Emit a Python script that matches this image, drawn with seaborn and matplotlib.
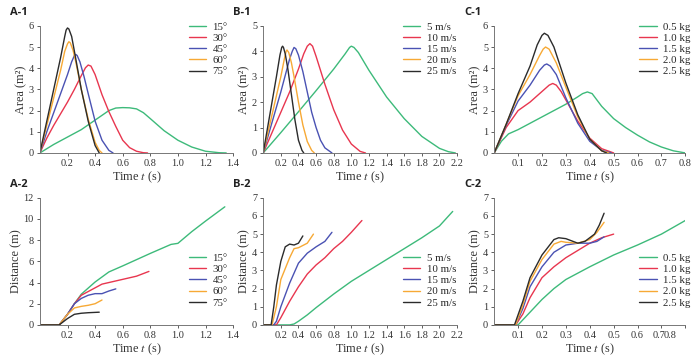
import matplotlib
matplotlib.use('Agg')
import matplotlib.pyplot as plt
import matplotlib.transforms as mtrans
import pandas as pd
import seaborn as sns

# ---- data ----
A_LABELS = ['15°', '30°', '45°', '60°', '75°']
B_LABELS = ['5 m/s', '10 m/s', '15 m/s', '20 m/s', '25 m/s']
C_LABELS = ['0.5 kg', '1.0 kg', '1.5 kg', '2.0 kg', '2.5 kg']

# A-1 area vs time
A1_T = [
    [0, 0.1, 0.2, 0.3, 0.4, 0.5, 0.55, 0.6, 0.65, 0.7, 0.75, 0.8, 0.9, 1.0, 1.1, 1.2, 1.3, 1.35],
    [0, 0.05, 0.1, 0.15, 0.2, 0.25, 0.3, 0.33, 0.35, 0.37, 0.4, 0.45, 0.5, 0.55, 0.6, 0.65, 0.7, 0.75, 0.78],
    [0, 0.05, 0.1, 0.15, 0.2, 0.23, 0.25, 0.26, 0.27, 0.29, 0.32, 0.35, 0.4, 0.45, 0.5, 0.53],
    [0, 0.05, 0.1, 0.15, 0.18, 0.2, 0.21, 0.22, 0.24, 0.26, 0.3, 0.35, 0.4, 0.43, 0.45],
    [0, 0.05, 0.1, 0.15, 0.18, 0.19, 0.2, 0.21, 0.23, 0.25, 0.3, 0.35, 0.4, 0.43],
]
A1_V = [
    [0, 0.4, 0.75, 1.1, 1.55, 2.0, 2.12, 2.14, 2.13, 2.08, 1.9, 1.62, 1.05, 0.6, 0.28, 0.08, 0.01, 0],
    [0, 0.7, 1.3, 1.85, 2.4, 3.0, 3.65, 4.02, 4.15, 4.1, 3.7, 2.75, 1.95, 1.25, 0.6, 0.25, 0.08, 0.01, 0],
    [0, 1.0, 1.9, 2.8, 3.7, 4.3, 4.6, 4.65, 4.6, 4.3, 3.6, 2.8, 1.5, 0.6, 0.12, 0],
    [0, 1.3, 2.6, 3.9, 4.8, 5.15, 5.25, 5.2, 4.85, 4.3, 3.0, 1.6, 0.5, 0.12, 0],
    [0, 1.5, 3.0, 4.5, 5.5, 5.8, 5.9, 5.85, 5.5, 4.8, 3.0, 1.5, 0.35, 0],
]

# B-1 area vs time
B1_T = [
    [0, 0.2, 0.4, 0.6, 0.8, 0.93, 0.98, 1.0, 1.03, 1.08, 1.2, 1.4, 1.6, 1.8, 2.0, 2.1, 2.18],
    [0, 0.1, 0.2, 0.3, 0.4, 0.46, 0.5, 0.53, 0.56, 0.6, 0.7, 0.8, 0.9, 1.0, 1.1, 1.16],
    [0, 0.1, 0.2, 0.3, 0.33, 0.35, 0.37, 0.4, 0.45, 0.5, 0.55, 0.6, 0.65, 0.7, 0.78],
    [0, 0.1, 0.2, 0.24, 0.26, 0.27, 0.29, 0.32, 0.35, 0.4, 0.45, 0.5, 0.55, 0.58],
    [0, 0.05, 0.1, 0.15, 0.19, 0.21, 0.22, 0.23, 0.25, 0.28, 0.32, 0.36, 0.4, 0.44, 0.46],
]
B1_V = [
    [0, 0.8, 1.62, 2.45, 3.3, 3.9, 4.15, 4.2, 4.15, 3.95, 3.25, 2.2, 1.35, 0.65, 0.18, 0.05, 0],
    [0, 0.8, 1.6, 2.4, 3.3, 3.9, 4.2, 4.3, 4.2, 3.8, 2.7, 1.7, 0.9, 0.35, 0.06, 0],
    [0, 1.2, 2.4, 3.7, 4.0, 4.15, 4.1, 3.85, 3.2, 2.4, 1.6, 1.0, 0.5, 0.2, 0],
    [0, 1.5, 3.0, 3.7, 4.0, 4.05, 3.95, 3.55, 3.0, 2.0, 1.1, 0.45, 0.1, 0],
    [0, 1.0, 2.0, 3.0, 3.85, 4.15, 4.2, 4.15, 3.9, 3.3, 2.3, 1.3, 0.5, 0.1, 0],
]

# C-1 area vs time
C1_T = [
    [0, 0.03, 0.06, 0.1, 0.15, 0.2, 0.25, 0.3, 0.35, 0.37, 0.39, 0.41, 0.45, 0.5, 0.55, 0.6, 0.65, 0.7, 0.75, 0.8],
    [0, 0.05, 0.1, 0.15, 0.2, 0.23, 0.245, 0.26, 0.28, 0.3, 0.35, 0.4, 0.45, 0.5],
    [0, 0.05, 0.1, 0.15, 0.19, 0.21, 0.22, 0.235, 0.26, 0.3, 0.35, 0.4, 0.45, 0.49],
    [0, 0.05, 0.1, 0.15, 0.19, 0.205, 0.215, 0.23, 0.26, 0.3, 0.35, 0.4, 0.45, 0.48],
    [0, 0.05, 0.1, 0.15, 0.18, 0.2, 0.21, 0.225, 0.25, 0.3, 0.35, 0.4, 0.45, 0.47],
]
C1_V = [
    [0, 0.55, 0.9, 1.1, 1.4, 1.7, 2.0, 2.3, 2.65, 2.8, 2.88, 2.8, 2.2, 1.62, 1.2, 0.84, 0.52, 0.28, 0.1, 0],
    [0, 1.2, 2.0, 2.4, 2.9, 3.2, 3.28, 3.2, 2.9, 2.5, 1.5, 0.7, 0.2, 0],
    [0, 1.3, 2.45, 3.2, 3.9, 4.15, 4.2, 4.1, 3.7, 2.6, 1.4, 0.55, 0.12, 0],
    [0, 1.35, 2.7, 3.7, 4.6, 4.9, 5.0, 4.9, 4.25, 3.1, 1.7, 0.65, 0.1, 0],
    [0, 1.35, 2.8, 4.1, 5.1, 5.55, 5.65, 5.55, 5.0, 3.3, 1.8, 0.65, 0.1, 0],
]

# A-2 distance vs time
A2_T = [
    [0, 0.14, 0.2, 0.25, 0.3, 0.4, 0.5, 0.6, 0.8, 0.95, 1.0, 1.1, 1.2, 1.34],
    [0, 0.14, 0.2, 0.25, 0.3, 0.4, 0.45, 0.5, 0.6, 0.7, 0.79],
    [0, 0.14, 0.2, 0.25, 0.3, 0.35, 0.4, 0.45, 0.5, 0.55],
    [0, 0.14, 0.2, 0.25, 0.3, 0.35, 0.4, 0.45],
    [0, 0.14, 0.2, 0.25, 0.3, 0.35, 0.43],
]
A2_V = [
    [0, 0, 1.0, 2.0, 2.9, 4.05, 5.0, 5.57, 6.75, 7.6, 7.7, 8.8, 9.8, 11.15],
    [0, 0, 1.0, 2.0, 2.8, 3.5, 3.85, 4.0, 4.3, 4.6, 5.05],
    [0, 0, 1.0, 2.0, 2.5, 2.8, 2.95, 2.95, 3.2, 3.4],
    [0, 0, 1.0, 1.6, 1.75, 1.85, 2.0, 2.35],
    [0, 0, 0.6, 1.0, 1.1, 1.15, 1.2],
]

# B-2 distance vs time
B2_T = [
    [0, 0.3, 0.35, 0.4, 0.5, 0.6, 0.8, 1.0, 1.2, 1.4, 1.6, 1.8, 2.0, 2.15],
    [0, 0.15, 0.2, 0.3, 0.4, 0.5, 0.6, 0.7, 0.8, 0.9, 1.0, 1.12],
    [0, 0.12, 0.15, 0.2, 0.3, 0.4, 0.5, 0.6, 0.7, 0.78],
    [0, 0.1, 0.15, 0.2, 0.3, 0.35, 0.4, 0.5, 0.57],
    [0, 0.09, 0.12, 0.15, 0.2, 0.25, 0.3, 0.35, 0.4, 0.45],
]
B2_V = [
    [0, 0, 0.05, 0.2, 0.55, 0.95, 1.7, 2.4, 3.0, 3.6, 4.2, 4.8, 5.45, 6.25],
    [0, 0, 0.4, 1.3, 2.1, 2.8, 3.3, 3.7, 4.2, 4.6, 5.1, 5.75],
    [0, 0, 0.2, 1.0, 2.3, 3.4, 3.95, 4.3, 4.6, 5.1],
    [0, 0, 1.0, 2.5, 3.7, 4.2, 4.25, 4.5, 5.0],
    [0, 0, 1.0, 2.2, 3.5, 4.3, 4.45, 4.4, 4.5, 4.9],
]

# C-2 distance vs time
C2_T = [
    [0, 0.1, 0.15, 0.2, 0.25, 0.3, 0.35, 0.4, 0.5, 0.6, 0.7, 0.8],
    [0, 0.09, 0.12, 0.15, 0.2, 0.25, 0.3, 0.35, 0.4, 0.45, 0.5],
    [0, 0.09, 0.12, 0.15, 0.2, 0.25, 0.3, 0.35, 0.4, 0.43, 0.46],
    [0, 0.09, 0.12, 0.15, 0.2, 0.25, 0.28, 0.3, 0.35, 0.4, 0.43, 0.46],
    [0, 0.085, 0.12, 0.15, 0.2, 0.25, 0.27, 0.3, 0.35, 0.38, 0.42, 0.44, 0.46],
]
C2_V = [
    [0, 0, 0.7, 1.4, 2.0, 2.5, 2.85, 3.2, 3.85, 4.4, 5.0, 5.75],
    [0, 0, 0.6, 1.5, 2.6, 3.2, 3.7, 4.1, 4.5, 4.8, 5.0],
    [0, 0, 0.9, 2.1, 3.2, 4.0, 4.4, 4.5, 4.5, 4.6, 4.85],
    [0, 0, 1.1, 2.4, 3.6, 4.45, 4.6, 4.55, 4.5, 4.7, 5.1, 5.65],
    [0, 0, 1.3, 2.6, 3.85, 4.7, 4.8, 4.75, 4.5, 4.6, 5.0, 5.5, 6.15],
]

COLORS = ['#3dba7a', '#e8364f', '#4a52b3', '#f7a935', '#2b2b2b']

sns.set_style('ticks')
plt.rcParams['font.family'] = ['Liberation Serif', 'DejaVu Serif']
plt.rcParams['mathtext.fontset'] = 'stix'


def to_frame(labels, ts, vs):
    rows = []
    for lab, t, v in zip(labels, ts, vs):
        for a, b in zip(t, v):
            rows.append((lab, a, b))
    return pd.DataFrame(rows, columns=['series', 't', 'v'])


def panel(fig, rect, name, labels, ts, vs, xmax, xstep, ymax, ystep, ylabel, leg_xy):
    ax = fig.add_axes(rect)
    df = to_frame(labels, ts, vs)
    sns.lineplot(data=df, x='t', y='v', hue='series', hue_order=labels,
                 palette=COLORS, estimator=None, sort=False, lw=1.0, ax=ax)
    ax.set_xlim(0, xmax)
    ax.set_ylim(0, ymax)
    nx = int(round(xmax / xstep))
    xt = [xstep * i for i in range(1, nx + 1)]
    ax.set_xticks(xt)
    ax.set_xticklabels(['%.1f' % v for v in xt])
    ny = int(round(ymax / ystep))
    yt = [ystep * i for i in range(0, ny + 1)]
    ax.set_yticks(yt)
    ax.set_yticklabels(['%d' % v for v in yt])
    ax.tick_params(labelsize=7.4, length=2.5, width=0.6, pad=2, colors='#444444',
                   labelcolor='#333333')
    for s in ['top', 'right']:
        ax.spines[s].set_visible(False)
    for s in ['left', 'bottom']:
        ax.spines[s].set_linewidth(0.7)
        ax.spines[s].set_color('#777777')
    ax.set_xlabel('Time $t$ (s)', fontsize=8.8, labelpad=1, color='#333333')
    ax.set_ylabel(ylabel, fontsize=8.8, labelpad=1, color='#333333')
    handles = ax.get_lines()[:len(labels)]
    ax.legend(handles, labels, loc='upper left', bbox_to_anchor=leg_xy,
              frameon=False, fontsize=7.8, handlelength=1.6, handletextpad=0.6,
              labelspacing=0.15, borderpad=0, borderaxespad=0)
    fig.text(rect[0] - 0.043, rect[1] + rect[3] + 0.03, name, fontsize=8,
             fontweight='bold', family='Open Sans', color='#222222')
    return ax


fig = plt.figure(figsize=(7.0, 3.59), dpi=100)

top_b, bot_b, h = 0.574, 0.095, 0.354
cols = [(0.057, 0.276), (0.376, 0.277), (0.706, 0.273)]

panel(fig, [cols[0][0], top_b, cols[0][1], h], 'A-1', A_LABELS, A1_T, A1_V,
      1.4, 0.2, 6, 1, 'Area (m²)', (0.77, 1.03))
panel(fig, [cols[1][0], top_b, cols[1][1], h], 'B-1', B_LABELS, B1_T, B1_V,
      2.2, 0.2, 5, 1, 'Area (m²)', (0.72, 1.03))
panel(fig, [cols[2][0], top_b, cols[2][1], h], 'C-1', C_LABELS, C1_T, C1_V,
      0.8, 0.1, 6, 1, 'Area (m²)', (0.76, 1.03))

panel(fig, [cols[0][0], bot_b, cols[0][1], h], 'A-2', A_LABELS, A2_T, A2_V,
      1.4, 0.2, 12, 2, 'Distance (m)', (0.77, 0.565))
panel(fig, [cols[1][0], bot_b, cols[1][1], h], 'B-2', B_LABELS, B2_T, B2_V,
      2.2, 0.2, 7, 1, 'Distance (m)', (0.72, 0.565))
ax = panel(fig, [cols[2][0], bot_b, cols[2][1], h], 'C-2', C_LABELS, C2_T, C2_V,
           0.8, 0.1, 7, 1, 'Distance (m)', (0.76, 0.565))
# the 0.7 and 0.8 labels overlap in the source figure
lab = ax.get_xticklabels()[-1]
lab.set_transform(lab.get_transform() + mtrans.ScaledTranslation(-11 / 72, 0, fig.dpi_scale_trans))
lab = ax.get_xticklabels()[-2]
lab.set_transform(lab.get_transform() + mtrans.ScaledTranslation(-2 / 72, 0, fig.dpi_scale_trans))

fig.savefig('out.png', dpi=100)
